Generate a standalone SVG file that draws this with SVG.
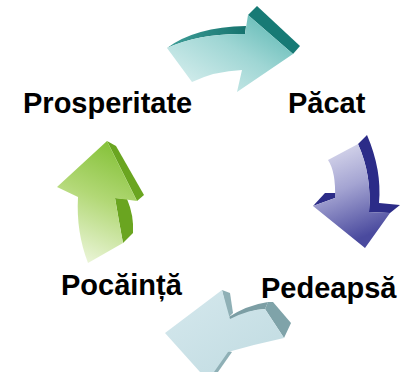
<svg xmlns="http://www.w3.org/2000/svg" width="412" height="372" viewBox="0 0 412 372">
  <defs>
    <linearGradient id="gTeal" x1="0" y1="1" x2="1" y2="0">
      <stop offset="0" stop-color="#e2f3f3"/>
      <stop offset="0.55" stop-color="#9fd6d4"/>
      <stop offset="1" stop-color="#52b3ae"/>
    </linearGradient>
    <linearGradient id="gBlue" x1="0" y1="0" x2="0.3" y2="1">
      <stop offset="0" stop-color="#e4e4f2"/>
      <stop offset="0.5" stop-color="#a4a4d2"/>
      <stop offset="1" stop-color="#4a4a9e"/>
    </linearGradient>
    <linearGradient id="gGray" x1="0" y1="0" x2="1" y2="1">
      <stop offset="0" stop-color="#d5e8ed"/>
      <stop offset="1" stop-color="#c0dbe1"/>
    </linearGradient>
    <linearGradient id="gGreen" x1="0.6" y1="0" x2="0.3" y2="1">
      <stop offset="0" stop-color="#86c23a"/>
      <stop offset="0.45" stop-color="#b2d876"/>
      <stop offset="1" stop-color="#edf6dc"/>
    </linearGradient>
    <linearGradient id="gTealDark" x1="0" y1="0" x2="1" y2="0">
      <stop offset="0" stop-color="#3f9f99"/>
      <stop offset="1" stop-color="#16736e"/>
    </linearGradient>
  </defs>
  <style>
    .lbl { font-family: "Liberation Sans", Arial, sans-serif; font-weight: bold; font-size: 29px; fill: #000; }
  </style>

  <g id="connectors">
    <g id="arrow-top">
      <path d="M167,48 Q195,27 246,26 L245,34 Q200,33 167,48 Z" fill="url(#gTealDark)"/>
      <path d="M248,15 L257,6 L300,46 L293,54 Z" fill="#177a75"/>
      <path d="M167,48 Q200,33 245,34 L248,15 L293,54 L237,92 L242,70 Q215,71 192,82 Z" fill="url(#gTeal)"/>
    </g>
    <g id="arrow-right">
      <path d="M358,144 L367,135 Q382,170 379,203 L400,205 L390,213 L369,212 Q372,175 358,144 Z" fill="#2c2c88"/>
      <path d="M313,206 L325,193 L336,193 L335,198 Z" fill="#2c2c88"/>
      <path d="M328,160 L358,144 Q372,175 369,212 L390,213 L365,248 L313,206 L335,198 Q336,172 328,160 Z" fill="url(#gBlue)"/>
    </g>
    <g id="arrow-bottom">
      <path d="M227,318 Q247,305 268,302 L265,309 Q248,310 232,320 Z" fill="#7c9ea4"/>
      <path d="M222,290 L230,293 L233,313 L228,318 Z" fill="#8fb0b6"/>
      <path d="M268,302 L273,302 L291,323 L284,338 L265,309 Z" fill="#7fa3a9"/>
      <path d="M225,350 L232,352 L218,372 L211,372 Z" fill="#8fb0b6"/>
      <path d="M165,333 L222,290 L230,319 Q250,309 265,309 L284,338 Q256,344 228,352 L214,372 L200,372 Z" fill="url(#gGray)"/>
    </g>
    <g id="arrow-left">
      <path d="M107,141 L116,146 L144,195 L137,201 Z" fill="#6aa520"/>
      <path d="M115,198 L127,199 Q134,215 133,233 L123,243 Q119,222 115,198 Z" fill="#6aa520"/>
      <path d="M107,141 L137,201 L115,198 Q119,222 123,243 L88,263 Q76,232 78,197 L57,187 Z" fill="url(#gGreen)"/>
    </g>
  </g>

  <g id="node-prosperitate"><text class="lbl" x="23" y="113">Prosperitate</text></g>
  <g id="node-pacat"><text class="lbl" x="288" y="113">Păcat</text></g>
  <g id="node-pocainta"><text class="lbl" x="61" y="295">Pocăință</text></g>
  <g id="node-pedeapsa"><text class="lbl" x="261" y="298">Pedeapsă</text></g>
</svg>
